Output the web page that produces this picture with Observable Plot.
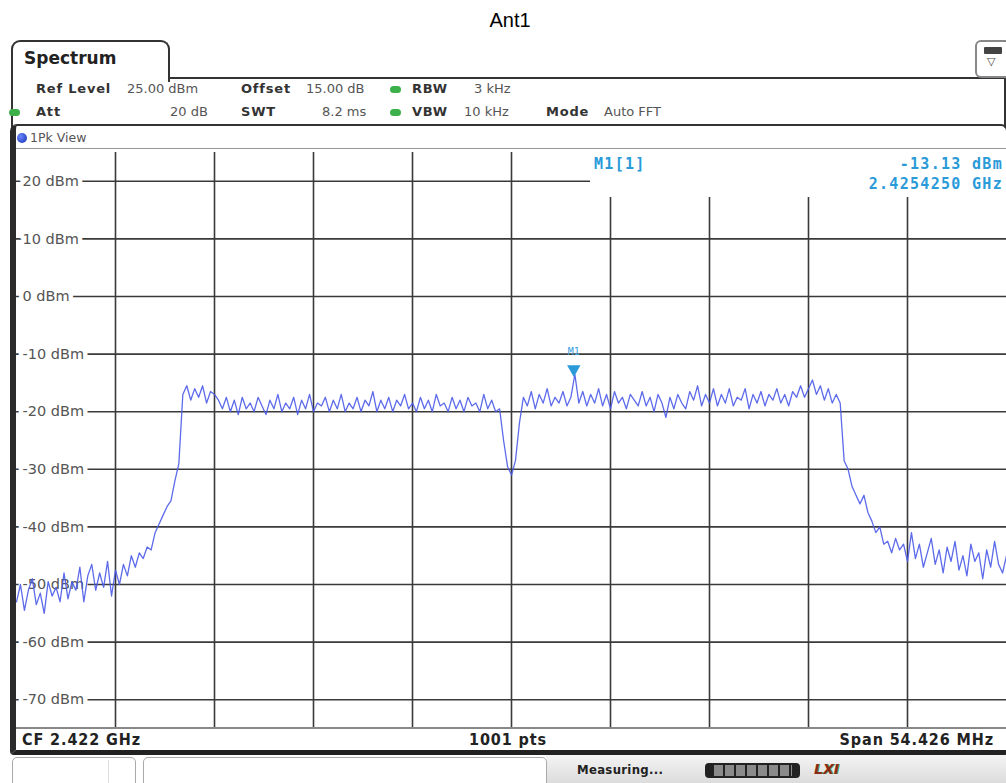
<!DOCTYPE html>
<html>
<head>
<meta charset="utf-8">
<script src="https://cdn.jsdelivr.net/npm/d3@7"></script>
<script src="https://cdn.jsdelivr.net/npm/@observablehq/plot@0.6"></script>
<style>
  html, body { margin: 0; padding: 0; background: #fff; }
  #page { position: relative; width: 1006px; height: 783px; overflow: hidden; font-family: "DejaVu Sans", sans-serif; color: #555; }
  .a { position: absolute; white-space: nowrap; }
  .b { font-weight: bold; color: #333; letter-spacing: 0.8px; }
  .hd { font-size: 13px; line-height: 16px; }
  .dot { position: absolute; width: 11px; height: 7px; border-radius: 4px; background: #3db04a; }
  .mk { font-family: "DejaVu Sans Mono", monospace; font-weight: bold; color: #2a9ad8; font-size: 15px; letter-spacing: 1.3px; }
  .bt { font-family: "DejaVu Sans Condensed", "DejaVu Sans", sans-serif; font-weight: bold; color: #222; font-size: 16px; line-height: 18px; letter-spacing: 0.9px; }
  #chart { position: absolute; left: 16px; top: 152px; }
</style>
</head>
<body>
<div id="page">
  <div class="a" id="title" style="left:0;width:1020px;top:9px;text-align:center;font-family:'Liberation Sans',Arial,sans-serif;font-size:20px;color:#000;">Ant1</div>

  <!-- tab -->
  <div class="a" style="left:11px;top:40px;width:155px;height:40px;border:2px solid #333;border-bottom:none;border-radius:9px 9px 0 0;background:#fff;"></div>
  <div class="a" style="left:24px;top:48px;font-size:17px;font-weight:bold;color:#222;">Spectrum</div>
  <div class="a" style="left:168px;top:77px;width:840px;height:2px;background:#333;"></div>
  <!-- top-right icon -->
  <div class="a" style="left:975px;top:40px;width:34px;height:34px;border:2px solid #888;border-radius:6px;background:#fff;"></div>
  <div class="a" style="left:984px;top:47px;width:18px;height:7px;background:#444;border-radius:1px;"></div>
  <div class="a" style="left:987px;top:55px;font-size:11px;color:#444;">▽</div>

  <!-- header frame -->
  <div class="a" style="left:11px;top:78px;width:2px;height:50px;background:#333;"></div>
  <div class="a" style="left:1004px;top:78px;width:2px;height:50px;background:#333;"></div>

  <!-- header rows -->
  <div class="a hd b" style="left:36px;top:81px;">Ref Level</div>
  <div class="a hd" style="left:127px;top:81px;">25.00 dBm</div>
  <div class="a hd b" style="left:241px;top:81px;">Offset</div>
  <div class="a hd" style="left:306px;top:81px;">15.00 dB</div>
  <div class="dot" style="left:390px;top:86px;"></div>
  <div class="a hd b" style="left:412px;top:81px;">RBW</div>
  <div class="a hd" style="left:474px;top:81px;">3 kHz</div>

  <div class="dot" style="left:9px;top:109px;"></div>
  <div class="a hd b" style="left:36px;top:104px;">Att</div>
  <div class="a hd" style="left:170px;top:104px;">20 dB</div>
  <div class="a hd b" style="left:241px;top:104px;">SWT</div>
  <div class="a hd" style="left:322px;top:104px;">8.2 ms</div>
  <div class="dot" style="left:390px;top:109px;"></div>
  <div class="a hd b" style="left:412px;top:104px;">VBW</div>
  <div class="a hd" style="left:464px;top:104px;">10 kHz</div>
  <div class="a hd b" style="left:546px;top:104px;">Mode</div>
  <div class="a hd" style="left:604px;top:104px;">Auto FFT</div>

  <!-- plot panel frame -->
  <div class="a" style="left:10px;top:124px;width:990px;height:624px;border-top:2px solid #333;border-left:6px solid #2b2b2b;border-right:2px solid #333;border-bottom:5px solid #222;border-radius:7px 7px 4px 4px;background:#fff;"></div>
  <div class="a" style="left:16px;top:148px;width:990px;height:1px;background:#999;"></div>
  <div class="a" style="left:17px;top:133px;width:10px;height:10px;border-radius:5px;background:radial-gradient(circle at 35% 35%, #6a86ff, #1530b0);"></div>
  <div class="a" style="left:30px;top:130px;font-size:12.5px;color:#555;">1Pk View</div>

  <div id="chart"></div>

  <!-- marker info box -->
  <div class="a" style="left:590px;top:152px;width:416px;height:45px;background:#fff;"></div>
  <div class="a mk" style="left:594px;top:155px;">M1[1]</div>
  <div class="a mk" style="right:3px;top:155px;">-13.13 dBm</div>
  <div class="a mk" style="right:3px;top:175px;">2.4254250 GHz</div>

  <!-- bottom info -->
  <div class="a" style="left:16px;top:727px;width:990px;height:2px;background:#888;"></div>
  <div class="a bt" style="left:22px;top:731px;">CF 2.422 GHz</div>
  <div class="a bt" style="left:408px;width:200px;text-align:center;top:731px;">1001 pts</div>
  <div class="a bt" style="right:12px;top:731px;">Span 54.426 MHz</div>

  <!-- status bar -->
  <div class="a" style="left:546px;top:755px;width:460px;height:28px;background:linear-gradient(#f4f4f4,#dcdcdc);"></div>
  <div class="a" style="left:12px;top:757px;width:122px;height:30px;border:1px solid #aaa;border-radius:5px;background:#fff;"></div>
  <div class="a" style="left:108px;top:760px;width:1px;height:24px;background:#ddd;"></div>
  <div class="a" style="left:143px;top:757px;width:402px;height:30px;border:1px solid #aaa;border-radius:5px;background:#fff;"></div>
  <div class="a bt" style="left:577px;top:761px;font-size:13px;letter-spacing:0.3px;">Measuring...</div>
  <div class="a" style="left:705px;top:763px;width:95px;height:15px;background:#222;border-radius:4px;"></div>
  <div class="a" style="left:714px;top:765px;width:78px;height:11px;background:repeating-linear-gradient(90deg,#8a8a8a 0 9px,#222 9px 11px);"></div>
  <div class="a" style="left:814px;top:761px;font-size:14px;font-weight:bold;font-style:italic;color:#8a2a1a;text-shadow:1px 0 #3a9a3a;">LXI</div>
</div>

<script>
// ---- data ----
const centerGHz = 2.422;
const spanMHz = 54.426;
const sweepPoints = 1001;
const refLevelDbm = 25;
const yTickValues = [20, 10, 0, -10, -20, -30, -40, -50, -60, -70];
const sampleStep = 4; // trace read every 4th sweep point
const traceDbm = [
  -53, -50, -54.5, -51, -49, -53.5, -51.5, -55, -49.5, -52,
  -50.5, -53, -48, -52.5, -49.5, -51, -47, -53, -48.5, -46.5,
  -51, -48, -50.5, -46, -52, -47.5, -50,
  -46.5, -48.5, -45, -47, -44.5, -45.5, -43.5, -44, -41, -39.5, -38, -36.5, -35.5, -32,
  -29,
  -17, -15.5, -18, -16, -17.5, -15.5, -18.5, -16.5, -17, -18,
  -19.5, -17.5, -20, -18, -20.5, -17.5, -19.5, -18.5, -20, -17.5,
  -19, -20.5, -18, -19.5, -17, -20, -18.5, -19.5, -17.5, -20.5,
  -18, -19.5, -17, -20, -18.5, -19, -17.5, -20, -18, -19.5,
  -17, -20, -18.5, -19.5, -17.5, -20, -18, -19, -16.5, -20,
  -18, -19.5, -17.5, -20, -18, -19, -17, -19.5, -18.5, -20,
  -17.5, -19.5, -18, -20, -17, -19, -18.5, -20, -17.5, -19.5,
  -18, -20, -17.5, -19, -18.5, -20, -17, -19.5, -18, -20, -19.5,
  -25, -29.5, -31, -28.5, -22,
  -17.5, -19, -16.5, -19.5, -17, -18.5, -16, -19, -17.5, -18.5,
  -16.5, -19, -17.5, -13.5, -18.5, -16.5, -19, -17, -18.5, -16,
  -19, -17, -19.5, -16.5, -18.5, -17.5, -19.5, -17, -18, -19,
  -16.5, -19, -17.5, -20, -17, -18.5, -21, -17.5, -19.5, -17,
  -18.5, -19.5, -16.5, -18, -15.5, -19, -17, -18.5, -16, -19,
  -17, -18.5, -16, -19, -17.5, -18, -16, -19.5, -17, -18.5,
  -16.5, -19, -17, -18, -16, -18.5, -17, -19, -16.5, -17.5,
  -15.5, -17.5, -16, -14.5, -17, -15.5, -18, -16, -18.5, -17,
  -18.5, -28.5, -30, -33, -34.5, -36, -34.5, -37.5, -39, -41, -40, -43, -42.5, -44.5, -42, -44, -43,
  -46, -41, -45.5, -43, -47, -44.5, -42, -46.5, -44, -48,
  -43.5, -46, -42.5, -47.5, -45, -48.5, -43, -46, -44.5, -49,
  -44, -47, -42.5, -46.5, -48, -45
];
const markerLabel = "M1";
const markerFreqGHz = 2.4254250;
const markerDbm = -13.13;

// ---- build ----
const startGHz = centerGHz - spanMHz / 2000;
const stopGHz = centerGHz + spanMHz / 2000;
const stepGHz = (stopGHz - startGHz) / (sweepPoints - 1);
const trace = traceDbm.map((v, i) => ({ f: startGHz + i * sampleStep * stepGHz, v }));
const xGrid = d3.range(1, 10).map(k => startGHz + k * (stopGHz - startGHz) / 10);
const marker = [{ f: markerFreqGHz, v: markerDbm, label: markerLabel }];

const chart = Plot.plot({
  width: 990,
  height: 576,
  margin: 0,
  style: { background: "transparent", overflow: "visible" },
  x: { domain: [startGHz, stopGHz], axis: null },
  y: { domain: [refLevelDbm - 100, refLevelDbm], axis: null },
  marks: [
    Plot.ruleY(yTickValues, { stroke: "#3a3a3a", strokeWidth: 1.6 }),
    Plot.ruleX(xGrid, { stroke: "#3a3a3a", strokeWidth: 1.6 }),
    Plot.text(yTickValues, {
      x: () => startGHz, y: d => d, text: d => `${d} dBm`,
      dx: 6, textAnchor: "start", fill: "#555", stroke: "white", strokeWidth: 9,
      paintOrder: "stroke", fontSize: 14.5, fontFamily: "DejaVu Sans"
    }),
    Plot.line(trace, { x: "f", y: "v", stroke: "#4b5be8", strokeWidth: 1.3, strokeOpacity: 0.9 }),
    Plot.dot(marker, { x: "f", y: "v", symbol: "triangle", r: 5, fill: "#2a9ad8", stroke: "none", rotate: 180, dy: -3 }),
    Plot.text(marker, { x: "f", y: "v", text: "label", dy: -20, fill: "#3aa0dd", fontSize: 10, fontFamily: "DejaVu Sans Mono" })
  ]
});
document.getElementById("chart").appendChild(chart);
</script>
</body>
</html>
